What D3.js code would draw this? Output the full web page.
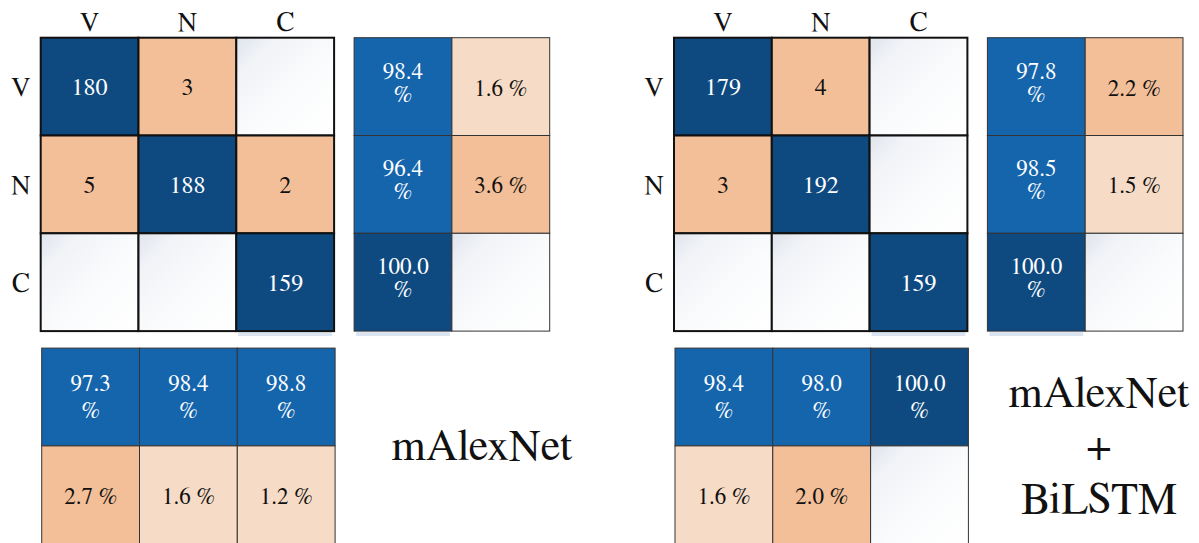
<!DOCTYPE html>
<html>
<head>
<meta charset="utf-8">
<script src="https://cdn.jsdelivr.net/npm/d3@7"></script>
<style>
  html, body { margin: 0; padding: 0; background: #fff; }
  svg { display: block; }
</style>
</head>
<body>
<svg id="chart" width="1199" height="543"></svg>
<script>
// ---- data ----
const classes = ["V", "N", "C"];

const countsA = [[180, 3, null], [5, 188, 2], [null, null, 159]];
const rowCorrectA = [98.4, 96.4, 100.0];
const rowErrorA = [1.6, 3.6, null];
const colCorrectA = [97.3, 98.4, 98.8];
const colErrorA = [2.7, 1.6, 1.2];

const countsB = [[179, 4, null], [3, 192, null], [null, null, 159]];
const rowCorrectB = [97.8, 98.5, 100.0];
const rowErrorB = [2.2, 1.5, null];
const colCorrectB = [98.4, 98.0, 100.0];
const colErrorB = [1.6, 2.0, null];

const titleA = ["mAlexNet"];
const titleB = ["mAlexNet", "+", "BiLSTM"];

// ---- styling ----
const FONT = "'FreeSerif', 'Liberation Serif', 'Times New Roman', serif";
const DARK = "#0e4a80";
const MID = "#1565ad";
const PEACH = "#f3bf98";
const LIGHT = "#f6dcc6";

const svg = d3.select("#chart");
const defs = svg.append("defs");
const grad = defs.append("linearGradient").attr("id", "emptyGrad")
  .attr("x1", "0%").attr("y1", "0%").attr("x2", "100%").attr("y2", "100%");
grad.append("stop").attr("offset", "0%").attr("stop-color", "#dfe4ec");
grad.append("stop").attr("offset", "20%").attr("stop-color", "#f1f3f7");
grad.append("stop").attr("offset", "60%").attr("stop-color", "#fbfcfd");
grad.append("stop").attr("offset", "100%").attr("stop-color", "#ffffff");

const errColor = v => (v >= 2 ? PEACH : LIGHT);
const corColor = v => (v >= 100 ? DARK : MID);

function txt(sel) {
  return sel.style("font-family", FONT);
}

function drawPanel(g, cfg) {
  const { counts, rowCorrect, rowError, colCorrect, colError, title, titleX, titleY, titleGap } = cfg;
  const cell = 97.8;
  const x = d3.scaleBand().domain(classes).range([0, cell * 3]);
  const y = d3.scaleBand().domain(classes).range([0, cell * 3]);

  // axis labels
  txt(g.append("g").selectAll("text").data(classes).join("text"))
    .attr("x", d => x(d) + x.bandwidth() / 2).attr("y", -7)
    .attr("text-anchor", "middle").attr("font-size", 27).attr("fill", "#111").text(d => d);
  txt(g.append("g").selectAll("text").data(classes).join("text"))
    .attr("x", -20).attr("y", d => y(d) + y.bandwidth() / 2)
    .attr("dy", "0.35em").attr("text-anchor", "middle").attr("font-size", 27).attr("fill", "#111").text(d => d);

  // shadow under last diagonal cell
  g.append("rect").attr("x", x("C") + 2).attr("y", cell * 3 + 1)
    .attr("width", x.bandwidth() - 4).attr("height", 4).attr("fill", "#dbe5f1");

  // confusion matrix cells
  const cells = [];
  counts.forEach((row, i) => row.forEach((v, j) => cells.push({ r: classes[i], c: classes[j], v, diag: i === j })));
  g.append("g").selectAll("rect").data(cells).join("rect")
    .attr("x", d => x(d.c)).attr("y", d => y(d.r))
    .attr("width", x.bandwidth()).attr("height", y.bandwidth())
    .attr("fill", d => d.v == null ? "url(#emptyGrad)" : (d.diag ? DARK : PEACH))
    .attr("stroke", "#111").attr("stroke-width", 2);
  txt(g.append("g").selectAll("text").data(cells.filter(d => d.v != null)).join("text"))
    .attr("x", d => x(d.c) + x.bandwidth() / 2).attr("y", d => y(d.r) + y.bandwidth() / 2)
    .attr("dy", "0.35em").attr("text-anchor", "middle").attr("font-size", 24)
    .attr("fill", d => d.diag ? "#fff" : "#111").text(d => d.v);

  // right (row) percentage panel
  const rp = g.append("g").attr("transform", `translate(${cell * 3 + 20},0)`);
  const px = d3.scaleBand().domain([0, 1]).range([0, cell * 2]);
  rp.append("rect").attr("x", 2).attr("y", cell * 3 + 1)
    .attr("width", px.bandwidth() - 4).attr("height", 4).attr("fill", "#dbe5f1");
  const rowCells = [];
  classes.forEach((c, i) => {
    rowCells.push({ r: c, k: 0, v: rowCorrect[i], col: corColor(rowCorrect[i]) });
    rowCells.push({ r: c, k: 1, v: rowError[i], col: rowError[i] == null ? "url(#emptyGrad)" : errColor(rowError[i]) });
  });
  rp.selectAll("rect.c").data(rowCells).join("rect").attr("class", "c")
    .attr("x", d => px(d.k)).attr("y", d => y(d.r))
    .attr("width", px.bandwidth()).attr("height", y.bandwidth())
    .attr("fill", d => d.col).attr("stroke", "#333").attr("stroke-width", 1);
  drawPct(rp, rowCells.filter(d => d.v != null), d => px(d.k) + px.bandwidth() / 2, d => y(d.r) + y.bandwidth() / 2, d => d.k === 0, -8, 15);

  // bottom (column) percentage panel
  const bp = g.append("g").attr("transform", `translate(1,${cell * 3 + 17})`);
  const by = d3.scaleBand().domain([0, 1]).range([0, cell * 2]);
  const colCells = [];
  classes.forEach((c, j) => {
    colCells.push({ c, k: 0, v: colCorrect[j], col: corColor(colCorrect[j]) });
    colCells.push({ c, k: 1, v: colError[j], col: colError[j] == null ? "url(#emptyGrad)" : errColor(colError[j]) });
  });
  bp.selectAll("rect.c").data(colCells).join("rect").attr("class", "c")
    .attr("x", d => x(d.c)).attr("y", d => by(d.k))
    .attr("width", x.bandwidth()).attr("height", by.bandwidth())
    .attr("fill", d => d.col).attr("stroke", "#333").attr("stroke-width", 1);
  drawPct(bp, colCells.filter(d => d.v != null), d => x(d.c) + x.bandwidth() / 2, d => by(d.k) + by.bandwidth() / 2, d => d.k === 0, -6, 21);

  // title
  const t = txt(svg.append("text")).attr("text-anchor", "middle").attr("font-size", 44).attr("fill", "#111");
  title.forEach((line, i) => {
    t.append("tspan").attr("x", titleX).attr("y", titleY + i * titleGap).text(line);
  });
}

function drawPct(sel, data, fx, fy, isCorrect, off1, off2) {
  const t = txt(sel.append("g").selectAll("text").data(data).join("text"))
    .attr("text-anchor", "middle").attr("font-size", 23)
    .attr("fill", d => isCorrect(d) ? "#fff" : "#111");
  t.each(function (d) {
    const el = d3.select(this);
    const cx = fx(d), cy = fy(d);
    if (isCorrect(d)) {
      el.append("tspan").attr("x", cx).attr("y", cy + off1).text(d.v.toFixed(1));
      el.append("tspan").attr("x", cx).attr("y", cy + off2).text("%");
    } else {
      el.append("tspan").attr("x", cx).attr("y", cy + 9).text(d.v.toFixed(1) + " %");
    }
  });
}

drawPanel(svg.append("g").attr("transform", "translate(40.7,37.7)"), {
  counts: countsA, rowCorrect: rowCorrectA, rowError: rowErrorA,
  colCorrect: colCorrectA, colError: colErrorA,
  title: titleA, titleX: 482, titleY: 460, titleGap: 0
});
drawPanel(svg.append("g").attr("transform", "translate(674,37.7)"), {
  counts: countsB, rowCorrect: rowCorrectB, rowError: rowErrorB,
  colCorrect: colCorrectB, colError: colErrorB,
  title: titleB, titleX: 1099, titleY: 407, titleGap: 53
});
</script>
</body>
</html>
